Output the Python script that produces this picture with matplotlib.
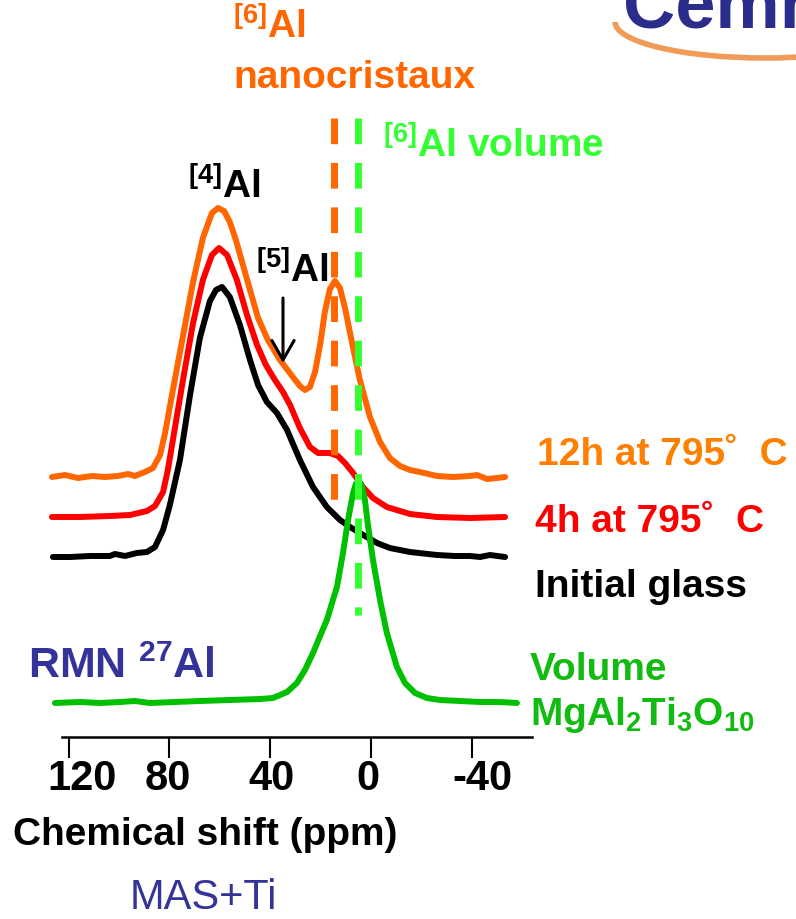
import matplotlib
matplotlib.use("Agg")
import matplotlib.pyplot as plt
from matplotlib.transforms import Affine2D, ScaledTranslation
from matplotlib.patches import Arc

W, H = 796, 919

# 27Al MAS NMR spectra, chemical shift (ppm) vs intensity above each baseline
orange_ppm = [126.6, 121.4, 116.3, 110.7, 105.6, 100.4, 96.4, 93.7, 89.7, 86.5,
              83.7, 81.7, 78.6, 74.6, 70.6, 66.7, 63.1, 60.7, 58.3, 56.0,
              53.6, 50.8, 48.0, 44.8, 40.9, 36.1, 31.0, 28.2, 26.2, 24.2,
              22.2, 20.2, 18.3, 16.3, 14.3, 12.3, 10.3, 7.5, 4.4, 0.4,
              -3.6, -7.5, -11.5, -15.5, -19.4, -26.2, -32.5, -39.3, -42.1, -46.0,
              -50.0, -53.2]
orange_int = [0, 2, -1, 1, 0, 1, 3, 1, 5, 9,
              22, 44, 87, 141, 195, 239, 264, 269, 266, 255,
              237, 212, 187, 159, 137, 117, 100, 91, 87, 90,
              105, 132, 165, 188, 196, 189, 169, 134, 97, 60,
              35, 19, 11, 7, 5, 1, 0, 1, 2, -2,
              -1, 0]

red_ppm = [126.6, 115.5, 103.6, 95.6, 88.9, 85.7, 82.5, 80.6, 78.6, 74.6,
           70.6, 66.7, 63.1, 60.3, 57.1, 53.2, 49.2, 45.2, 41.7, 38.1,
           34.9, 32.1, 28.2, 24.2, 21.0, 16.3, 13.1, 10.3, 7.1, 3.2,
           -0.8, -6.3, -15.5, -26.2, -39.3, -53.2]
red_int = [0, 0, 1, 2, 6, 11, 25, 47, 77, 137,
           194, 237, 262, 269, 262, 237, 202, 172, 152, 137,
           125, 112, 89, 70, 64, 64, 61, 54, 44, 30,
           19, 10, 3, 0, -1, 0]

black_ppm = [126.2, 119.4, 111.5, 103.6, 101.6, 97.6, 92.9, 88.9, 85.7, 82.5,
             79.8, 75.8, 71.8, 67.9, 63.9, 61.5, 59.1, 56.0, 52.0, 48.0,
             44.8, 41.3, 37.3, 33.3, 28.2, 23.0, 17.5, 12.3, 8.3, 4.4,
             -2.4, -7.5, -15.5, -26.2, -33.3, -39.3, -43.3, -47.2, -53.2]
black_int = [0, 0, 1, 1, 3, 1, 4, 5, 10, 27,
             52, 97, 162, 219, 256, 267, 270, 260, 232, 197,
             172, 155, 144, 127, 97, 70, 50, 37, 30, 24,
             14, 9, 5, 2, 1, 1, 0, 2, 0]

green_ppm = [125.4, 115.5, 107.5, 99.6, 93.7, 87.7, 77.8, 67.9, 56.0, 44.0,
             38.9, 33.3, 29.4, 26.2, 23.0, 20.2, 17.5, 15.1, 13.5, 11.1,
             9.1, 7.1, 6.0, 4.8, 3.6, 2.4, 1.2, -0.8, -3.6, -6.3,
             -10.3, -13.5, -17.5, -22.2, -27.4, -35.3, -43.3, -51.2, -57.9]
green_int = [0, 1, 0, 1, 2, 0, 1, 2, 3, 4,
             5, 11, 20, 33, 50, 67, 83, 103, 116, 150,
             183, 210, 219, 222, 217, 203, 178, 143, 103, 70,
             36, 20, 10, 5, 3, 2, 1, 1, 0]

offsets = [260, 220, 180, 34]      # vertical stacking of the spectra
colors = ['#FF6600', '#FF0000', '#000000', '#00C000']

ref_shifts = [14.7, 5.2]           # [6]Al nanocristaux, [6]Al volume
ref_colors = ['#FF6600', '#33FF33']
ref_bottom = [237, 122]

tick_pos = [120, 80, 40, 0, -40]
tick_lab = ['120', '80', '40', '0', '-40']
tick_shift = [14, -2, 1, -3, 11]   # labels are not centred on their ticks


def main():
    plt.rcParams['font.family'] = ['Liberation Sans', 'DejaVu Sans']
    plt.rcParams['mathtext.fontset'] = 'custom'
    plt.rcParams['mathtext.rm'] = 'Liberation Sans:bold'
    plt.rcParams['mathtext.it'] = 'Liberation Sans:bold'
    plt.rcParams['mathtext.bf'] = 'Liberation Sans:bold'

    fig = plt.figure(figsize=(W / 100, H / 100), dpi=100)
    ax = fig.add_axes([0, 0, 1, 1])
    ax.set_xlim(147.2, -168.65)
    ax.set_ylim(-182, 737)

    # pixel coordinates (from top left) for the annotations
    pix = Affine2D().scale(1 / W, -1 / H).translate(0, 1) + fig.transFigure

    spectra = [(orange_ppm, orange_int), (red_ppm, red_int),
               (black_ppm, black_int), (green_ppm, green_int)]
    for (x, y), off, c in zip(spectra, offsets, colors):
        ax.plot(x, [v + off for v in y], color=c, lw=4.3,
                solid_capstyle='round', solid_joinstyle='round', zorder=2)

    for s, c, b in zip(ref_shifts, ref_colors, ref_bottom):
        ax.plot([s, s], [619, b], color=c, lw=5, dashes=(3.7, 2.7),
                dash_capstyle='butt', zorder=3)

    # axis
    for side in ['left', 'right', 'top']:
        ax.spines[side].set_visible(False)
    ax.spines['bottom'].set_position(('data', 0))
    ax.spines['bottom'].set_bounds(122.6, -63.9)
    ax.spines['bottom'].set_linewidth(1.8)
    ax.set_yticks([])
    ax.set_xticks(tick_pos)
    ax.set_xticklabels(tick_lab)
    ax.tick_params(axis='x', direction='out', length=15, width=1.5, pad=1,
                   labelsize=30)
    for lab, dx in zip(ax.get_xticklabels(), tick_shift):
        lab.set_fontfamily(['Liberation Sans Narrow', 'Liberation Sans'])
        lab.set_fontweight('bold')
        lab.set_transform(lab.get_transform() +
                          ScaledTranslation(dx / 100, 0, fig.dpi_scale_trans))

    bold = dict(transform=pix, fontsize=28, fontweight='bold', va='baseline',
                ha='left', clip_on=False)
    ax.text(233, 39, r'$^{[6]}$Al', color='#FF6600', **bold)
    ax.text(233, 88, 'nanocristaux', color='#FF6600', **bold)
    ax.text(383, 158, r'$^{[6]}$Al volume', color='#33FF33', **bold)
    ax.text(188, 199, r'$^{[4]}$Al', color='black', **bold)
    ax.text(256, 283, r'$^{[5]}$Al', color='black', **bold)
    ax.text(537, 465, '12h at 795\u02da  C', color='#FF8000', **bold)
    ax.text(535, 532, '4h at 795\u02da  C', color='#FF0000', **bold)
    ax.text(535, 597, 'Initial glass', color='black', **bold)
    ax.text(530, 680, 'Volume', color='#11BB11', **bold)
    ax.text(530, 725, r'MgAl$_2$Ti$_3$O$_{10}$', color='#11BB11', **bold)
    ax.text(28, 678, r'RMN $^{27}$Al', color='#333399',
            **{**bold, 'fontsize': 31})
    ax.text(13, 845, 'Chemical shift (ppm)', color='black', **bold)
    ax.text(130, 909, 'MAS+Ti', color='#333399', transform=pix, fontsize=30,
            va='baseline', ha='left')

    # [5]Al arrow
    ax.annotate('', xy=(283, 363), xycoords=pix, xytext=(283, 298),
                textcoords=pix,
                arrowprops=dict(arrowstyle='->,head_length=1.4,head_width=0.8',
                                lw=2.2, color='black', shrinkA=0, shrinkB=0))

    # logo, cut by the top edge as in the original slide
    ax.text(623, 27, 'Cemhti', color='#2B2D8C', transform=pix, fontsize=52,
            fontweight='bold', va='baseline', ha='left', clip_on=False)
    ax.add_patch(Arc((765, 22), 300, 72, theta1=0, theta2=180,
                     transform=pix, color='#EE8A3A', lw=4, alpha=0.85,
                     clip_on=False))

    fig.savefig('out.png', dpi=100)


if __name__ == "__main__":
    main()
